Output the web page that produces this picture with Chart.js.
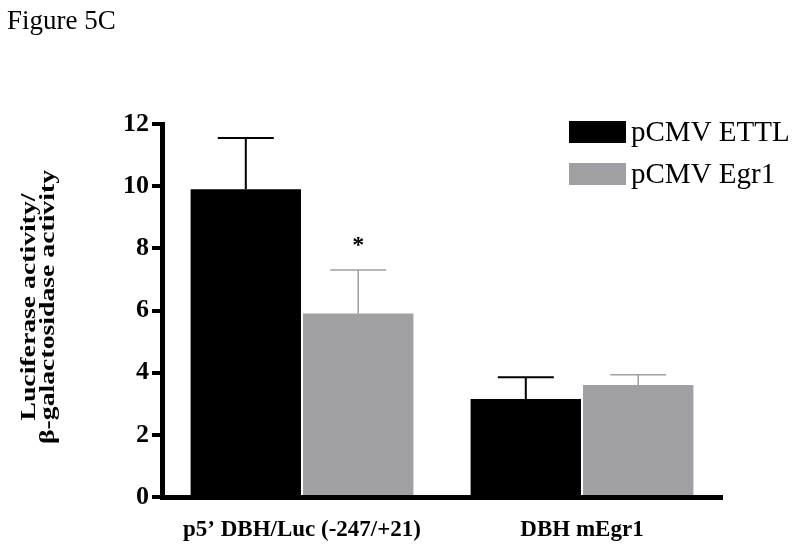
<!DOCTYPE html>
<html>
<head>
<meta charset="utf-8">
<script src="https://cdn.jsdelivr.net/npm/chart.js@4.4.1/dist/chart.umd.min.js"></script>
<style>
  html, body { margin: 0; padding: 0; background: #fff; }
  #wrap { position: relative; width: 800px; height: 557px; }
</style>
</head>
<body>
<div id="wrap"><canvas id="fig5c" width="800" height="557"></canvas></div>
<script>
// values
const categories = ['p5\u2019 DBH/Luc (-247/+21)', 'DBH mEgr1'];
const seriesNames = ['pCMV ETTL', 'pCMV Egr1'];
const ettlValues = [9.9, 3.15];
const egr1Values = [5.9, 3.6];
const ettlSem = [1.65, 0.7];
const egr1Sem = [1.4, 0.33];
const egr1Marks = ['*', ''];
const yTicks = [0, 2, 4, 6, 8, 10, 12];
const yTitle = ['Luciferase activity/', '\u03b2-galactosidase activity'];

const serif = "'Liberation Serif', 'Times New Roman', serif";
const black = '#000000';
const grey = '#a0a0a4';

// upper-only error bars + significance marks
const errorBars = {
    id: 'errorBars',
    afterDatasetsDraw(chart) {
        const ctx = chart.ctx;
        const y = chart.scales.y;
        chart.data.datasets.forEach((ds, i) => {
            const meta = chart.getDatasetMeta(i);
            meta.data.forEach((bar, j) => {
                const top = y.getPixelForValue(ds.data[j] + ds.sem[j]);
                ctx.save();
                ctx.strokeStyle = ds.backgroundColor;
                ctx.lineWidth = i === 0 ? 2 : 1.5;
                ctx.beginPath();
                ctx.moveTo(bar.x, bar.y);
                ctx.lineTo(bar.x, top);
                ctx.moveTo(bar.x - 28, top);
                ctx.lineTo(bar.x + 28, top);
                ctx.stroke();
                if (ds.marks && ds.marks[j]) {
                    ctx.fillStyle = black;
                    ctx.font = 'bold 24px ' + serif;
                    ctx.textAlign = 'center';
                    ctx.textBaseline = 'middle';
                    ctx.fillText(ds.marks[j], bar.x, top - 24);
                }
                ctx.restore();
            });
        });
    }
};

// figure label, y title (stretched like the original) and legend box
const decorations = {
    id: 'decorations',
    afterDraw(chart) {
        const ctx = chart.ctx;
        ctx.save();
        ctx.fillStyle = black;
        ctx.font = '27px ' + serif;
        ctx.textAlign = 'left';
        ctx.textBaseline = 'middle';
        ctx.fillText('Figure 5C', 7, 22);

        ctx.font = 'bold 21px ' + serif;
        ctx.textAlign = 'center';
        yTitle.forEach((line, i) => {
            ctx.save();
            ctx.translate(30 + i * 19, 307);
            ctx.rotate(-Math.PI / 2);
            ctx.scale(1.32, 1);
            ctx.fillText(line, 0, 0);
            ctx.restore();
        });

        ctx.textAlign = 'left';
        chart.data.datasets.forEach((ds, i) => {
            const top = 121 + i * 42;
            ctx.fillStyle = ds.backgroundColor;
            ctx.fillRect(569, top, 57, 22);
            ctx.fillStyle = black;
            ctx.font = '29px ' + serif;
            ctx.fillText(ds.label, 631, top + 12);
        });
        ctx.restore();
    }
};

const ctx = document.getElementById('fig5c').getContext('2d');
new Chart(ctx, {
    type: 'bar',
    data: {
        labels: categories,
        datasets: [{
            label: seriesNames[0],
            data: ettlValues,
            sem: ettlSem,
            backgroundColor: black,
            categoryPercentage: 0.803,
            barPercentage: 0.982
        }, {
            label: seriesNames[1],
            data: egr1Values,
            sem: egr1Sem,
            marks: egr1Marks,
            backgroundColor: grey,
            categoryPercentage: 0.803,
            barPercentage: 0.982
        }]
    },
    options: {
        responsive: false,
        animation: false,
        layout: { padding: { left: 0, top: 124, right: 78, bottom: 0 } },
        plugins: {
            legend: { display: false },
            tooltip: { enabled: false }
        },
        scales: {
            x: {
                afterFit: s => { s.height = 60; },
                grid: { display: false, drawTicks: false },
                border: { display: true, color: black, width: 5 },
                ticks: {
                    color: black,
                    padding: 19,
                    font: { family: serif, size: 23, weight: 'bold' }
                }
            },
            y: {
                min: 0,
                max: 12,
                afterFit: s => { s.width = 162; },
                afterBuildTicks: s => { s.ticks = yTicks.map(v => ({ value: v })); },
                grid: {
                    drawOnChartArea: false,
                    drawTicks: true,
                    tickLength: 10,
                    lineWidth: 4,
                    color: black
                },
                border: { display: true, color: black, width: 5 },
                ticks: {
                    color: black,
                    padding: 3,
                    font: { family: serif, size: 26, weight: 'bold' }
                }
            }
        }
    },
    plugins: [errorBars, decorations]
});
</script>
</body>
</html>
